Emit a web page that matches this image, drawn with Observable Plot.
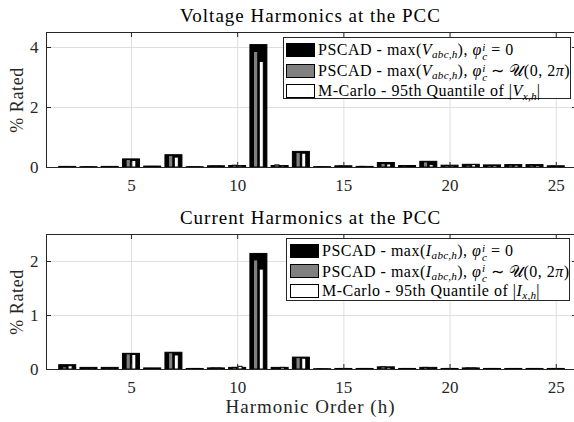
<!DOCTYPE html>
<html><head><meta charset="utf-8">
<script src="https://cdn.jsdelivr.net/npm/d3@7"></script>
<script src="https://cdn.jsdelivr.net/npm/@observablehq/plot@0.6"></script>
<style>
body{margin:0;background:#fff;}
#wrap{position:relative;width:574px;height:422px;overflow:hidden;font-family:"Liberation Serif",serif;}
#wrap svg{display:block;}
.leg{position:absolute;border:1px solid #262626;background:#fff;box-sizing:border-box;}
.row{position:absolute;height:18px;display:flex;align-items:center;white-space:nowrap;font-size:16px;letter-spacing:0.5px;color:#000;}
.sw{width:29px;height:14px;box-sizing:border-box;border:1px solid #000;margin-right:3px;flex:none;}
.sb{font-size:0.7em;font-style:italic;position:relative;top:0.28em;letter-spacing:0.2px;}
.ss{display:inline-block;position:relative;width:0.45em;height:0.8em;font-style:italic;font-size:0.7em;letter-spacing:0;}
.ss .up{position:absolute;left:0.05em;top:-0.4em;line-height:1;}
.ss .dn{position:absolute;left:0.05em;top:0.45em;line-height:1;}
</style>
</head><body>
<div id="wrap"></div>
<script>
// ---- data ----
const harmonics = [2,3,4,5,6,7,8,9,10,11,12,13,14,15,16,17,18,19,20,21,22,23,24,25];
const xTicks = [5,10,15,20,25];

const voltageBlack = [0.02,0.01,0.02,0.27,0.03,0.41,0.01,0.04,0.05,4.08,0.05,0.52,0.01,0.04,0.02,0.15,0.05,0.19,0.06,0.09,0.07,0.08,0.08,0.04];
const voltageGray  = [0.01,0.01,0.01,0.25,0.02,0.38,0.01,0.03,0.06,3.85,0.07,0.48,0.01,0.03,0.02,0.12,0.04,0.17,0.05,0.06,0.05,0.06,0.06,0.03];
const voltageWhite = [0.01,0.01,0.01,0.22,0.02,0.33,0.01,0.03,0.04,3.52,0.04,0.46,0.01,0.02,0.01,0.10,0.03,0.08,0.04,0.08,0.05,0.06,0.05,0.02];
const voltageYTicks = [0,2,4];

const currentBlack = [0.08,0.03,0.03,0.29,0.02,0.31,0.01,0.02,0.03,2.14,0.03,0.22,0.005,0.01,0.01,0.04,0.01,0.03,0.01,0.02,0.01,0.01,0.01,0.01];
const currentGray  = [0.04,0.02,0.02,0.28,0.01,0.30,0.01,0.02,0.03,2.02,0.02,0.21,0.004,0.01,0.01,0.04,0.01,0.03,0.01,0.02,0.01,0.01,0.01,0.01];
const currentWhite = [0.06,0.02,0.02,0.27,0.01,0.26,0.01,0.02,0.05,1.85,0.03,0.20,0.004,0.01,0.01,0.03,0.01,0.02,0.01,0.02,0.01,0.01,0.01,0.01];
const currentYTicks = [0,1,2];

const titles = ["Voltage Harmonics at the PCC", "Current Harmonics at the PCC"];
const yLabel = "% Rated";
const xLabel = "Harmonic Order (h)";
const voltageLegend = [
  'PSCAD - max(<i>V</i><span class="sb">abc,h</span>), <i>φ</i><span class="ss"><span class="up">i</span><span class="dn">c</span></span> = 0',
  'PSCAD - max(<i>V</i><span class="sb">abc,h</span>), <i>φ</i><span class="ss"><span class="up">i</span><span class="dn">c</span></span> ∼ 𝒰(0, 2<i>π</i>)',
  'M-Carlo - 95th Quantile of |<i>V</i><span class="sb">x,h</span>|'
];
const currentLegend = [
  'PSCAD - max(<i>I</i><span class="sb">abc,h</span>), <i>φ</i><span class="ss"><span class="up">i</span><span class="dn">c</span></span> = 0',
  'PSCAD - max(<i>I</i><span class="sb">abc,h</span>), <i>φ</i><span class="ss"><span class="up">i</span><span class="dn">c</span></span> ∼ 𝒰(0, 2<i>π</i>)',
  'M-Carlo - 95th Quantile of |<i>I</i><span class="sb">x,h</span>|'
];
const seriesFills = ["#000000", "#808080", "#ffffff"];

// ---- drawing ----
const W = 574, X0 = 46, X1 = 577, XMIN = 1, XMAX = 26;
const axisColor = "#262626";
const gridColor = "#dfdfdf";
const FONT = "'Liberation Serif', serif";

function panel(opts) {
  const {black, gray, white, yMax, yTicks, height, marginTop, marginBottom, title, showX} = opts;
  const data = harmonics.map((h, i) => ({h, b: black[i], g: gray[i], w: white[i]}));
  const fh = height - marginTop - marginBottom;
  const tickPx = 5;
  const ty = yMax * tickPx / fh;
  const tx = (XMAX - XMIN) * tickPx / (X1 - X0);
  const marks = [
    Plot.gridX(xTicks, {stroke: gridColor, strokeOpacity: 1}),
    Plot.gridY(yTicks.filter(v => v > 0), {stroke: gridColor, strokeOpacity: 1}),
    Plot.rectY(data, {x1: d => d.h - 0.4, x2: d => d.h + 0.4, y: "b", fill: seriesFills[0], stroke: "#000", strokeWidth: 1}),
    Plot.rectY(data, {x1: d => d.h - 0.23, x2: d => d.h - 0.03, y: "g", fill: seriesFills[1], stroke: "#000", strokeWidth: 1}),
    Plot.rectY(data, {x1: d => d.h + 0.04, x2: d => d.h + 0.23, y: "w", fill: seriesFills[2], stroke: "#000", strokeWidth: 1}),
    Plot.ruleY([yMax], {stroke: axisColor}),
    Plot.ruleX([XMAX], {stroke: axisColor}),
    Plot.ruleX(xTicks, {y1: 0, y2: ty, stroke: axisColor}),
    Plot.ruleX(xTicks, {y1: yMax - ty, y2: yMax, stroke: axisColor}),
    Plot.ruleY(yTicks, {x1: XMIN, x2: XMIN + tx, stroke: axisColor}),
    Plot.ruleY(yTicks, {x1: XMAX - tx, x2: XMAX, stroke: axisColor}),
    Plot.ruleY([0], {stroke: axisColor}),
    Plot.ruleX([XMIN], {stroke: axisColor}),
    Plot.axisX(xTicks, {tickSize: 0, tickPadding: 11, fontSize: 17, fill: axisColor, label: null, tickFormat: d3.format("d"), fontFamily: FONT}),
    Plot.axisY(yTicks, {tickSize: 0, tickPadding: 8, fontSize: 17, fill: axisColor, label: null, tickFormat: d3.format("d"), fontFamily: FONT}),
    Plot.text([yLabel], {frameAnchor: "left", rotate: -90, dx: -29, textAnchor: "middle", lineAnchor: "middle", fontSize: 18, fill: axisColor, text: d => d, fontFamily: FONT}),
    Plot.text([title], {frameAnchor: "top", dy: -17, textAnchor: "middle", lineAnchor: "middle", fontSize: 19, fill: "#000", text: d => d, fontFamily: FONT})
  ];
  if (showX) {
    marks.push(Plot.text([xLabel], {frameAnchor: "bottom", dy: 37, textAnchor: "middle", lineAnchor: "middle", fontSize: 19, fill: axisColor, text: d => d, fontFamily: FONT}));
  }
  const svg = Plot.plot({
    width: W, height, marginLeft: X0, marginRight: 0, marginTop, marginBottom,
    style: {fontFamily: FONT, background: "#fff", overflow: "hidden"},
    x: {domain: [XMIN, XMAX], range: [X0, X1]},
    y: {domain: [0, yMax]},
    marks
  });
  // letter spacing to approximate the wider LaTeX font
  d3.select(svg).selectAll("text").each(function() {
    const t = this.textContent;
    if (t === title || t === xLabel) this.setAttribute("letter-spacing", "1");
    else if (t === yLabel) this.setAttribute("letter-spacing", "0.6");
  });
  return svg;
}

function legend(rows, box) {
  const div = document.createElement("div");
  div.className = "leg";
  Object.assign(div.style, {left: box.x + "px", top: box.y + "px", width: box.w + "px", height: box.h + "px"});
  rows.forEach((html, i) => {
    const r = document.createElement("div");
    r.className = "row";
    r.style.left = box.pad + "px";
    r.style.top = (box.rowTop + i * box.rowStep - 9) + "px";
    const sw = document.createElement("div");
    sw.className = "sw";
    sw.style.background = seriesFills[i];
    const t = document.createElement("span");
    t.innerHTML = html;
    r.appendChild(sw); r.appendChild(t);
    div.appendChild(r);
  });
  return div;
}

const wrap = document.getElementById("wrap");
wrap.appendChild(panel({black: voltageBlack, gray: voltageGray, white: voltageWhite, yMax: 4.5, yTicks: voltageYTicks,
  height: 200, marginTop: 32, marginBottom: 33, title: titles[0], showX: false}));
wrap.appendChild(panel({black: currentBlack, gray: currentGray, white: currentWhite, yMax: 2.5, yTicks: currentYTicks,
  height: 222, marginTop: 34, marginBottom: 53, title: titles[1], showX: true}));
wrap.appendChild(legend(voltageLegend, {x: 283, y: 37, w: 288, h: 62, pad: 2, rowTop: 12, rowStep: 20.7}));
wrap.appendChild(legend(currentLegend, {x: 286, y: 238, w: 284, h: 63, pad: 3, rowTop: 12, rowStep: 20}));
</script>
</body></html>
